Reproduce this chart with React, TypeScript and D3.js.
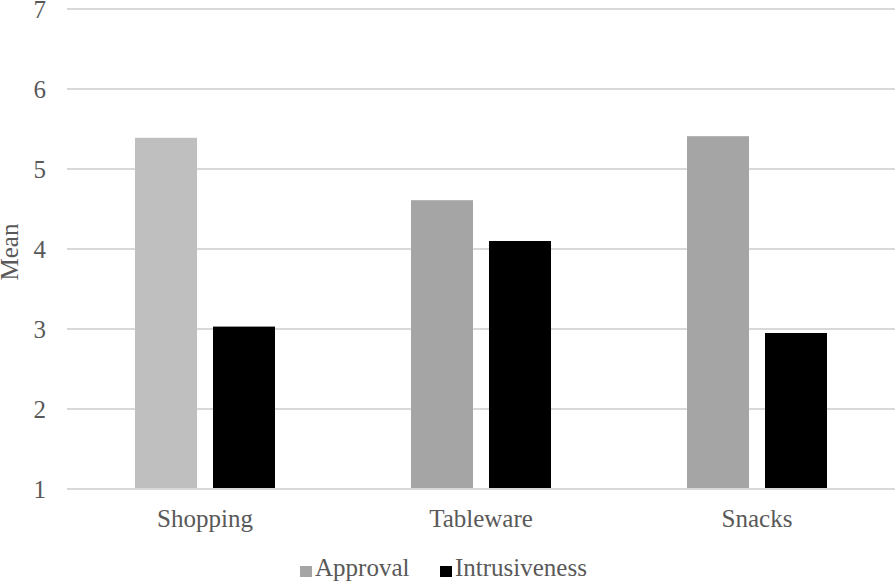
import React, { useEffect, useRef } from 'react';
import * as d3 from 'd3';

// chart data
const categories = ['Shopping', 'Tableware', 'Snacks'];
const seriesNames = ['Approval', 'Intrusiveness'];
const approval = [5.39, 4.61, 5.41];
const intrusiveness = [3.03, 4.1, 2.95];
const yTicks = [1, 2, 3, 4, 5, 6, 7];

const App = () => {
  const ref = useRef<SVGSVGElement | null>(null);

  useEffect(() => {
    const svg = d3.select(ref.current);
    svg.selectAll('*').remove(); // clear

    const width = 895;
    const height = 587;
    const font = '"Liberation Serif", "Times New Roman", serif';
    const textColor = '#595959';

    svg.attr('width', width).attr('height', height);

    const x0 = d3.scaleBand().domain(categories).range([67, 895]).padding(0);
    const groupWidth = 140;
    const x1 = d3.scaleBand()
      .domain(seriesNames)
      .range([0, groupWidth])
      .paddingInner(0.205)
      .paddingOuter(0);
    const y = d3.scaleLinear().domain([1, 7]).range([489, 9]);

    // gridlines
    svg.append('g')
      .selectAll('line')
      .data(yTicks)
      .enter()
      .append('line')
      .attr('x1', 67)
      .attr('x2', width)
      .attr('y1', d => y(d))
      .attr('y2', d => y(d))
      .attr('stroke', '#d9d9d9')
      .attr('stroke-width', 2);

    // y tick labels
    svg.append('g')
      .selectAll('text')
      .data(yTicks)
      .enter()
      .append('text')
      .attr('x', 46)
      .attr('y', d => y(d))
      .attr('dy', '0.34em')
      .attr('text-anchor', 'end')
      .attr('font-family', font)
      .attr('font-size', 25)
      .attr('fill', textColor)
      .text(d => d);

    // y axis title
    svg.append('text')
      .attr('transform', 'translate(18, 252) rotate(-90)')
      .attr('text-anchor', 'middle')
      .attr('font-family', font)
      .attr('font-size', 25)
      .attr('fill', textColor)
      .text('Mean');

    const rows = categories.map((c, i) => ({
      category: c,
      values: [
        { key: 'Approval', value: approval[i] },
        { key: 'Intrusiveness', value: intrusiveness[i] },
      ],
    }));

    const barColor = (cat: string, key: string) => {
      if (key === 'Intrusiveness') return '#000000';
      return cat === 'Shopping' ? '#bfbfbf' : '#a5a5a5';
    };

    // bars
    const groups = svg.append('g')
      .selectAll('g')
      .data(rows)
      .enter()
      .append('g')
      .attr('transform', d => `translate(${(x0(d.category) as number) + (x0.bandwidth() - groupWidth) / 2}, 0)`);

    groups.selectAll('rect')
      .data(d => d.values.map(v => ({ ...v, category: d.category })))
      .enter()
      .append('rect')
      .attr('x', d => x1(d.key) as number)
      .attr('y', d => y(d.value))
      .attr('width', x1.bandwidth())
      .attr('height', d => y(1) - y(d.value) - 1)
      .attr('fill', d => barColor(d.category, d.key));

    // category labels
    svg.append('g')
      .selectAll('text')
      .data(categories)
      .enter()
      .append('text')
      .attr('x', d => (x0(d) as number) + x0.bandwidth() / 2)
      .attr('y', 527)
      .attr('text-anchor', 'middle')
      .attr('font-family', font)
      .attr('font-size', 25)
      .attr('fill', textColor)
      .text(d => d);

    // legend
    const legendX = [300, 440];
    const legendColors = ['#a5a5a5', '#000000'];
    const legend = svg.append('g')
      .selectAll('g')
      .data(seriesNames)
      .enter()
      .append('g')
      .attr('transform', (d, i) => `translate(${legendX[i]}, 566)`);

    legend.append('rect')
      .attr('width', 12)
      .attr('height', 11)
      .attr('fill', (d, i) => legendColors[i]);

    legend.append('text')
      .attr('x', 15)
      .attr('y', 10)
      .attr('font-family', font)
      .attr('font-size', 25)
      .attr('fill', textColor)
      .text(d => d);
  }, []);

  return (
    <svg
      ref={ref}
      style={{ position: 'absolute', left: 0, top: 0, display: 'block', background: '#fff' }}
    />
  );
};

export default App;
